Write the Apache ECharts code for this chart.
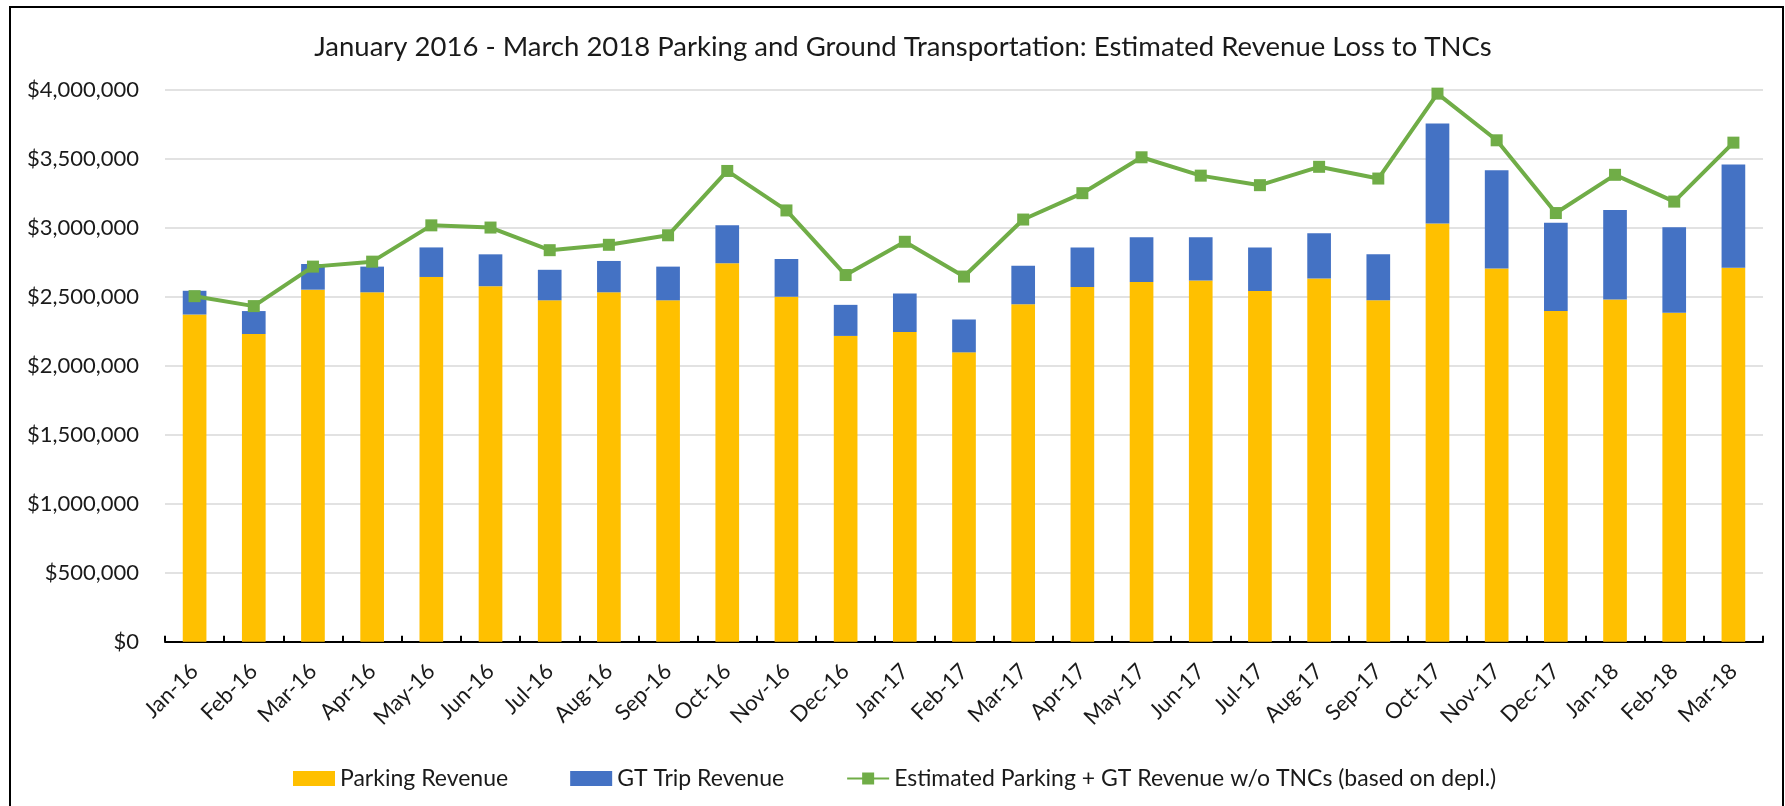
<!DOCTYPE html>
<html>
<head>
<meta charset="utf-8">
<script src="https://cdn.jsdelivr.net/npm/echarts@6/dist/echarts.min.js"></script>
<style>
html,body{margin:0;padding:0;background:#fff;}
#chart{width:1785px;height:806px;}
</style>
</head>
<body>
<div id="chart"></div>
<script>
// months on the x axis
var months = ['Jan-16','Feb-16','Mar-16','Apr-16','May-16','Jun-16','Jul-16','Aug-16','Sep-16','Oct-16','Nov-16','Dec-16',
	'Jan-17','Feb-17','Mar-17','Apr-17','May-17','Jun-17','Jul-17','Aug-17','Sep-17','Oct-17','Nov-17','Dec-17',
	'Jan-18','Feb-18','Mar-18'];

// parking revenue (yellow part)
var parkingRevenue = [2370000,2229000,2550000,2531000,2642000,2575000,2473000,2531000,2473000,2742000,2498000,2215000,
	2243000,2096000,2445000,2570000,2606000,2617000,2540000,2631000,2473000,3030000,2703000,2395000,
	2478000,2382000,2709000];

// GT trip revenue (blue part, stacked on top)
var gtTripRevenue = [172000,166000,186000,186000,214000,231000,221000,227000,244000,274000,274000,225000,
	280000,238000,278000,286000,324000,313000,316000,327000,333000,724000,712000,640000,
	649000,620000,748000];

// estimated parking + GT w/o TNCs
var estimatedRevenue = [2503000,2431000,2717000,2753000,3016000,3000000,2836000,2875000,2944000,3410000,3124000,2656000,
	2897000,2645000,3058000,3249000,3509000,3376000,3307000,3440000,3355000,3970000,3632000,3105000,
	3382000,3188000,3615000];

var yTicks = {min:0, max:4000000, interval:500000};

var FONT = 'Lato, "Open Sans", sans-serif';
var TXT = '#1a1a1a';

function money(v){
	return '$' + String(v).replace(/\B(?=(\d{3})+(?!\d))/g, ',');
}

var option = {
	animation:false,
	backgroundColor:'#fff',
	title:{
		text:'January 2016 - March 2018 Parking and Ground Transportation: Estimated Revenue Loss to TNCs',
		left:898, top:28, textAlign:'center',
		textStyle:{fontFamily:FONT, fontSize:27.5, fontWeight:'normal', color:TXT}
	},
	legend:{
		left:288, top:762,
		itemGap:62, itemWidth:42, itemHeight:15,
		textStyle:{fontFamily:FONT, fontSize:23, color:TXT},
		data:[
			{name:'Parking Revenue', icon:'rect'},
			{name:'GT Trip Revenue', icon:'rect'},
			{name:'Estimated Parking + GT Revenue w/o TNCs (based on depl.)'}
		]
	},
	grid:{left:165, right:22, top:89.5, bottom:164.3},
	xAxis:{
		type:'category',
		data:months,
		axisLine:{lineStyle:{color:'#000', width:2}},
		axisTick:{show:true, inside:true, length:6, lineStyle:{color:'#000', width:2}},
		axisLabel:{rotate:45, margin:26, fontFamily:FONT, fontSize:22, color:TXT, interval:0}
	},
	yAxis:{
		type:'value',
		min:yTicks.min, max:yTicks.max, interval:yTicks.interval,
		axisLine:{show:false},
		axisTick:{show:false},
		splitLine:{lineStyle:{color:'#d9d9d9', width:1.5}},
		axisLabel:{margin:26, fontFamily:FONT, fontSize:22, color:TXT, formatter:money}
	},
	series:[
		{
			name:'Parking Revenue', type:'bar', stack:'rev',
			barWidth:'40%',
			itemStyle:{color:'#ffc000'},
			data:parkingRevenue
		},
		{
			name:'GT Trip Revenue', type:'bar', stack:'rev',
			itemStyle:{color:'#4472c4'},
			data:gtTripRevenue
		},
		{
			name:'Estimated Parking + GT Revenue w/o TNCs (based on depl.)', type:'line',
			symbol:'rect', symbolSize:12,
			lineStyle:{color:'#70ad47', width:4},
			itemStyle:{color:'#70ad47'},
			data:estimatedRevenue
		}
	],
	graphic:[{
		type:'rect', silent:true, z:100,
		shape:{x:10, y:7, width:1773, height:812},
		style:{fill:'none', stroke:'#000', lineWidth:2}
	}]
};

var myChart = echarts.init(document.getElementById('chart'));
myChart.setOption(option);
</script>
</body>
</html>
